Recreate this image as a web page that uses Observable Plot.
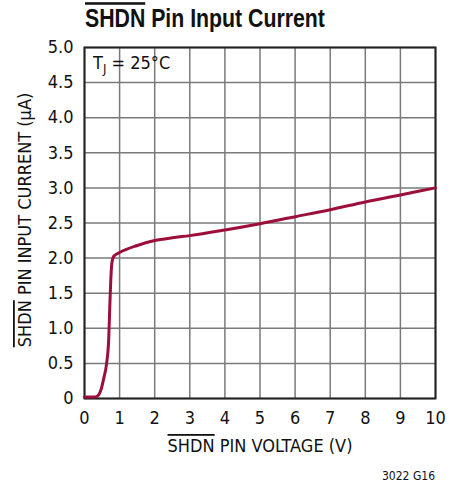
<!DOCTYPE html>
<html><head><meta charset="utf-8">
<script src="https://cdn.jsdelivr.net/npm/d3@7"></script>
<script src="https://cdn.jsdelivr.net/npm/@observablehq/plot@0.6"></script>
<style>body{margin:0;background:#fff} svg{display:block}</style>
</head><body><div id="chart"></div>
<script>
const voltage = [0, 0.3, 0.4, 0.46, 0.55, 0.63, 0.69, 0.72, 0.75, 0.78, 0.84, 1, 1.5, 2, 2.5, 3, 4, 5, 6, 7, 8, 9, 10];
const current = [0.02, 0.02, 0.05, 0.11, 0.29, 0.5, 0.85, 1.3, 1.7, 1.93, 2.03, 2.08, 2.18, 2.25, 2.29, 2.32, 2.40, 2.49, 2.59, 2.69, 2.8, 2.9, 3.0];
const xTicks = [0,1,2,3,4,5,6,7,8,9,10];
const yTicks = [0,0.5,1,1.5,2,2.5,3,3.5,4,4.5,5];
const yTickLabels = ["0","0.5","1.0","1.5","2.0","2.5","3.0","3.5","4.0","4.5","5.0"];
const data = voltage.map((v,i)=>({v, c: current[i]}));
const FONT = "'Liberation Sans Narrow','DejaVu Sans Condensed',sans-serif";

const chart = Plot.plot({
  width: 460, height: 487,
  marginLeft: 84, marginRight: 25, marginTop: 47, marginBottom: 89,
  style: {fontFamily: FONT, background: "#fff", color: "#111"},
  x: {domain: [0,10]},
  y: {domain: [0,5]},
  marks: [
    Plot.gridX(xTicks, {stroke: "#7a7a7a", strokeOpacity: 1, strokeWidth: 1.5}),
    Plot.gridY(yTicks, {stroke: "#7a7a7a", strokeOpacity: 1, strokeWidth: 1.5}),
    Plot.frame({stroke: "#222", strokeWidth: 2}),
    Plot.line(data, {x: "v", y: "c", stroke: "#9c0f3a", strokeWidth: 3, curve: "monotone-x"}),
    Plot.axisX(xTicks, {tickSize: 0, tickPadding: 13, fontSize: 18, label: null, tickFormat: d => String(d)}),
    Plot.axisY(yTicks, {tickSize: 0, tickPadding: 11, fontSize: 18, label: null, tickFormat: d => yTickLabels[yTicks.indexOf(d)]})
  ]
});
document.getElementById("chart").appendChild(chart);

const svg = d3.select(chart);
function addText(x, y, parts, opts) {
  const t = svg.append("text").attr("x", 0).attr("y", 0)
    .attr("font-family", opts.family || FONT).attr("font-size", opts.size).attr("fill", "#111")
    .attr("font-weight", opts.weight || "normal")
    .attr("text-anchor", opts.anchor || "start");
  parts.forEach(p => {
    const s = t.append("tspan").text(p.t);
    if (p.over) s.style("text-decoration", "overline");
    if (p.dy) s.attr("dy", p.dy);
    if (p.fs) s.attr("font-size", p.fs);
  });
  let tr = `translate(${x},${y})`;
  if (opts.rotate) tr += " rotate(-90)";
  if (opts.length) {
    const w = t.node().getComputedTextLength();
    tr += ` scale(${opts.length / w},1)`;
  }
  t.attr("transform", tr);
  return t;
}
addText(85, 27, [{t: "SHDN", over: true}, {t: " Pin Input Current"}], {size: 25, weight: "bold", family: "'Liberation Sans',Arial,sans-serif", length: 240});
addText(93, 69, [{t: "T"}, {t: "J", dy: 4, fs: 13}, {t: " = 25°C", dy: -4}], {size: 18});
addText(260, 452, [{t: "SHDN", over: true}, {t: " PIN VOLTAGE (V)"}], {size: 18, anchor: "middle"});
addText(31, 220, [{t: "SHDN", over: true}, {t: " PIN INPUT CURRENT (μA)"}], {size: 18, anchor: "middle", rotate: true});
addText(435, 480, [{t: "3022 G16"}], {size: 12, anchor: "end"});
</script></body></html>
